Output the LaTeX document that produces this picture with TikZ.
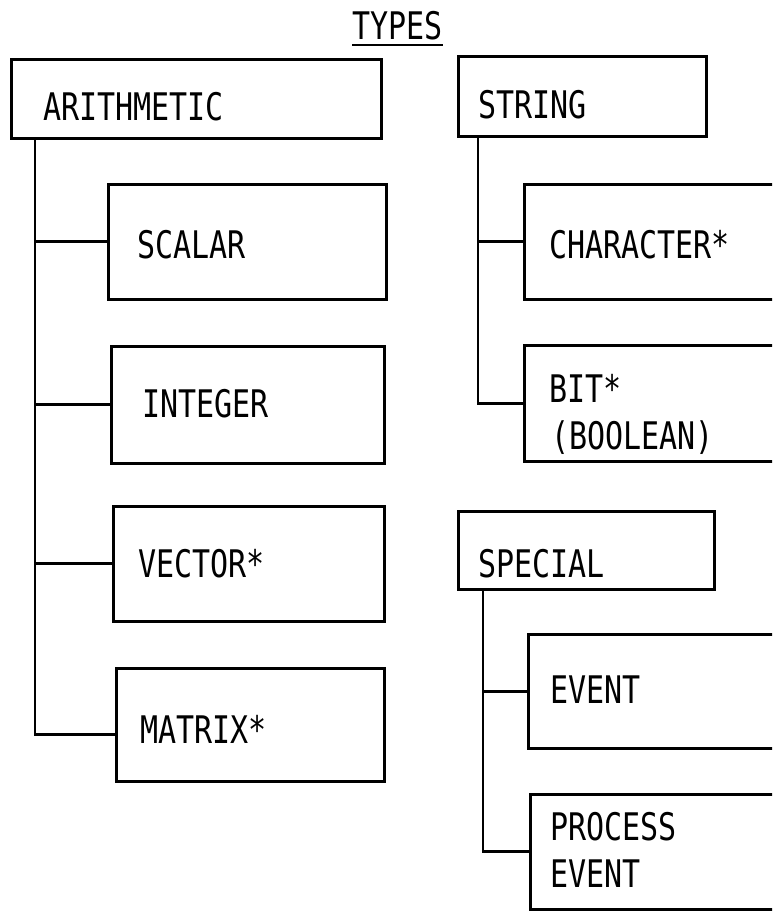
\documentclass[tikz,border=0pt]{standalone}
\usepackage{fontspec}
\newfontfamily\typefont[FakeStretch=0.79]{DejaVu Sans Mono}
\usetikzlibrary{calc}
\tikzset{
  typebox/.style={draw, line width=2.6pt, rectangle, inner sep=0pt, anchor=north west},
  conn/.style={line width=2.7pt},
  lbl/.style={anchor=base west, inner sep=0pt, font=\typefont\fontsize{38}{46}\selectfont}
}
\newcommand{\tbox}[5]{% name, left, top, right, bottom
  \node[typebox, minimum width={(#4-#2)*1pt}, minimum height={(#5-#3)*1pt}] (#1) at (#2,#3) {};}
\begin{document}
\begin{tikzpicture}[x=1pt,y=-1pt]
\useasboundingbox (0,0) rectangle (772,911);
\clip (0,0) rectangle (772,911);
\fill[white] (0,0) rectangle (772,911);

% title
\node[lbl] (title) at (352,39) {TYPES};
\draw[line width=2pt] (title.south west) ++(0,-5pt) -- ++(91pt,0);

% arithmetic family
\tbox{arith}{10}{58}{380}{137}
\tbox{scalar}{107}{183}{385}{298}
\tbox{integer}{110}{345}{383}{462}
\tbox{vector}{112}{505}{383}{620}
\tbox{matrix}{115}{667}{383}{780}

\node[lbl] (tarith) at (43,120) {ARITHMETIC};
\node[lbl] (tscalar) at (137,258) {SCALAR};
\node[lbl] (tinteger) at (142,417) {INTEGER};
\node[lbl] (tvector) at (138,577) {VECTOR*};
\node[lbl] (tmatrix) at (140,743) {MATRIX*};

\coordinate (atrunk) at ([xshift=25pt]arith.south west);
\coordinate (amatrix) at ([yshift=-9.5pt]matrix.west);
\draw[conn] (atrunk) |- (amatrix);
\draw[conn] (atrunk |- scalar.west) -- (scalar.west);
\draw[conn] (atrunk |- integer.west) -- (integer.west);
\draw[conn] (atrunk |- vector.west) -- (vector.west);

% string family
\tbox{string}{457}{55}{705}{135}
\tbox{character}{523}{183}{800}{298}
\tbox{bit}{523}{344}{800}{460}

\node[lbl] (tstring) at (478,118) {STRING};
\node[lbl] (tcharacter) at (549,258) {CHARACTER*};
\node[lbl] (tbit) at (549,402) {BIT*};
\node[lbl] (tboolean) at (551,449) {(BOOLEAN)};

\coordinate (strunk) at ([xshift=21pt]string.south west);
\draw[conn] (strunk) |- (bit.west);
\draw[conn] (strunk |- character.west) -- (character.west);

% special family
\tbox{special}{457}{510}{713}{588}
\tbox{event}{527}{633}{800}{747}
\tbox{process}{529}{793}{800}{908}

\node[lbl] (tspecial) at (478,577) {SPECIAL};
\node[lbl] (tevent) at (550,703) {EVENT};
\node[lbl] (tprocess) at (550,840) {PROCESS};
\node[lbl] (tprocevent) at (550,887) {EVENT};

\coordinate (ptrunk) at ([xshift=26pt]special.south west);
\draw[conn] (ptrunk) |- (process.west);
\draw[conn] (ptrunk |- event.west) -- (event.west);
\end{tikzpicture}
\end{document}
